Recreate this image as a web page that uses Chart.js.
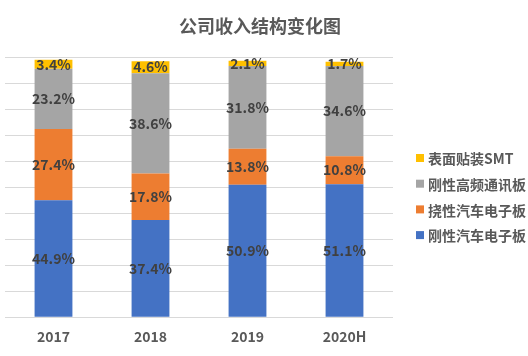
<!DOCTYPE html>
<html><head><meta charset="utf-8">
<script src="https://cdn.jsdelivr.net/npm/chart.js@4/dist/chart.umd.min.js"></script>
<style>html,body{margin:0;padding:0;background:#fff}#wrap{width:528px;height:356px}</style>
</head><body><div id="wrap"><canvas id="c" width="528" height="356"></canvas></div>
<script>
const title = "公司收入结构变化图";
const categories = ["2017", "2018", "2019", "2020H"];
const rigidAuto = [44.9, 37.4, 50.9, 51.1];      // 刚性汽车电子板
const flexAuto = [27.4, 17.8, 13.8, 10.8];       // 挠性汽车电子板
const rigidHF = [23.2, 38.6, 31.8, 34.6];        // 刚性高频通讯板
const smt = [3.4, 4.6, 2.1, 1.7];                // 表面贴装SMT
const seriesNames = ["刚性汽车电子板", "挠性汽车电子板", "刚性高频通讯板", "表面贴装SMT"];
const colors = ["#4472C4", "#ED7D31", "#A5A5A5", "#FFC000"];
const FONT = "'Noto Sans CJK SC','Noto Sans',sans-serif";

const overlay = {
  id: 'overlay',
  afterDatasetsDraw(chart) {
    const ctx = chart.ctx;
    ctx.save();
    ctx.font = "bold 14px " + FONT;
    ctx.fillStyle = "#404040";
    ctx.textAlign = "center";
    ctx.textBaseline = "middle";
    chart.data.datasets.forEach((ds, di) => {
      const meta = chart.getDatasetMeta(di);
      meta.data.forEach((bar, i) => {
        const y = (bar.y + bar.base) / 2;
        ctx.fillText(ds.data[i].toFixed(1) + "%", bar.x, y);
      });
    });
    ctx.font = "bold 18px " + FONT;
    ctx.fillStyle = "#595959";
    ctx.fillText(title, 260, 26);
    ctx.font = "bold 14px " + FONT;
    ctx.textAlign = "left";
    const n = chart.data.datasets.length;
    for (let k = 0; k < n; k++) {
      const di = n - 1 - k;
      const ds = chart.data.datasets[di];
      const y = 158 + k * 25.7;
      ctx.fillStyle = ds.backgroundColor;
      ctx.fillRect(416, y - 4, 8, 8);
      ctx.fillStyle = "#595959";
      ctx.fillText(ds.label, 428, y + 1);
    }
    ctx.restore();
  }
};

new Chart(document.getElementById('c'), {
  type: 'bar',
  data: {
    labels: categories,
    datasets: [
      { label: seriesNames[0], data: rigidAuto, backgroundColor: colors[0] },
      { label: seriesNames[1], data: flexAuto, backgroundColor: colors[1] },
      { label: seriesNames[2], data: rigidHF, backgroundColor: colors[2] },
      { label: seriesNames[3], data: smt, backgroundColor: colors[3] }
    ]
  },
  options: {
    responsive: false,
    animation: false,
    layout: { padding: { left: 5, right: 135, top: 57, bottom: 0 } },
    datasets: { bar: { barPercentage: 0.39, categoryPercentage: 1 } },
    plugins: { legend: { display: false }, title: { display: false }, tooltip: { enabled: false } },
    scales: {
      x: {
        stacked: true,
        grid: { display: false, drawTicks: false },
        border: { display: false },
        ticks: { font: { family: FONT, size: 14, weight: 'bold' }, color: "#595959", padding: 11 }
      },
      y: {
        stacked: true,
        min: 0, max: 100,
        ticks: { display: false, stepSize: 10 },
        grid: { color: "#D9D9D9", drawTicks: false, lineWidth: 1 },
        border: { display: false }
      }
    }
  },
  plugins: [overlay]
});
</script>
</body></html>
